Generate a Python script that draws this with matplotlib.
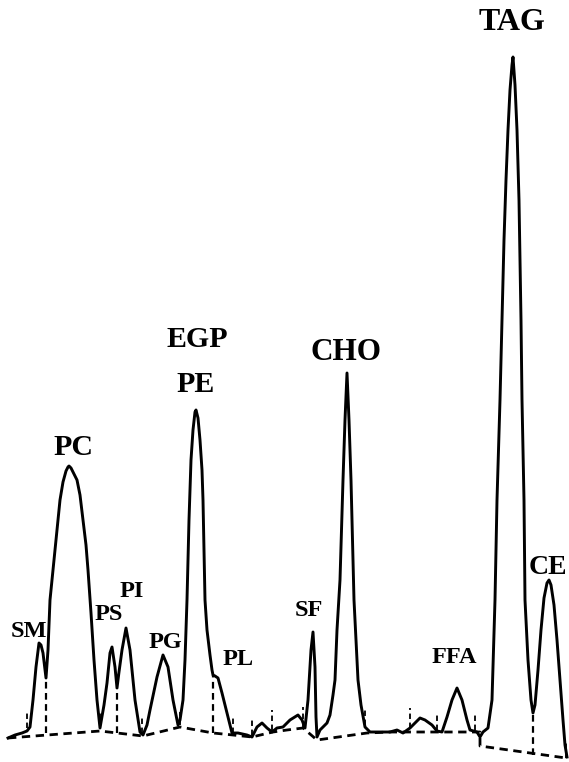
import matplotlib.pyplot as plt

# detector trace: retention position and response
time = [8, 15, 22, 27, 30, 33, 36, 39, 41, 43, 46, 48, 50, 53, 57, 60, 63, 66, 68, 69,
        71, 74, 77, 80, 83, 86, 88, 91, 94, 97, 100, 104, 107, 110, 112, 115, 117, 119, 122, 126,
        130, 135, 140, 143, 147, 150, 157, 163, 168, 173, 178, 180, 183, 185, 187, 189, 191, 193, 195, 196,
        198, 200, 202, 203, 204, 205, 207, 210, 212, 213, 215, 218, 222, 227, 232, 238, 247, 252, 257, 262,
        267, 272, 277, 283, 290, 298, 302, 305, 308, 311, 313, 315, 316, 317, 320, 327, 330, 333, 335, 337,
        340, 343, 345, 347, 349, 351, 353, 354, 356, 358, 361, 365, 370, 377, 390, 397, 403, 410, 420, 425,
        432, 437, 442, 447, 452, 457, 462, 467, 470, 477, 480, 483, 488, 492, 495, 497, 500, 502, 504, 506,
        508, 510, 512, 513, 515, 517, 519, 520, 521, 522, 524, 525, 528, 531, 533, 535, 538, 541, 544, 547,
        549, 551, 554, 557, 560, 563, 565, 567]
signal = [24, 27, 29, 31, 35, 62, 95, 119, 117, 109, 84, 112, 162, 192, 232, 262, 280, 291, 295, 296,
          294, 288, 282, 267, 242, 217, 192, 149, 102, 62, 34, 57, 79, 109, 115, 95, 74, 90, 112, 134,
          112, 62, 30, 27, 37, 52, 85, 107, 95, 62, 37, 42, 62, 102, 162, 242, 302, 332, 350, 352,
          344, 322, 292, 262, 212, 162, 132, 107, 92, 87, 86, 84, 69, 49, 29, 29, 27, 25, 35, 39,
          34, 30, 34, 35, 42, 47, 42, 34, 62, 112, 130, 95, 45, 25, 32, 39, 47, 67, 82, 132,
          182, 282, 342, 389, 342, 282, 202, 162, 122, 82, 57, 35, 30, 30, 30, 32, 29, 34, 44, 42,
          37, 31, 30, 45, 62, 74, 62, 42, 32, 30, 25, 30, 34, 62, 162, 262, 362, 442, 522, 582,
          632, 672, 697, 705, 677, 632, 562, 502, 442, 362, 262, 162, 102, 62, 49, 57, 92, 132, 164, 179,
          182, 177, 157, 122, 82, 42, 17, 5]

# integration baseline
base_time = [8, 100, 143, 180, 213, 233, 252, 273, 287, 303, 317, 367, 390, 480, 480, 566]
base_signal = [24, 31, 26, 35, 29, 27, 25, 30, 32, 34, 22, 29, 30, 30, 16, 4]

# peak split lines (time, top, bottom)
drop_time = [46, 117, 213, 533]
drop_top = [84, 74, 87, 49]
drop_bottom = [29, 29, 29, 7]

# integration start/stop marks
mark_time = [27, 100, 142, 180, 233, 252, 272, 303, 365, 410, 437, 475, 566]
mark_top = [49, 50, 44, 50, 47, 45, 52, 55, 52, 54, 50, 50, 20]
mark_bottom = [34, 34, 29, 37, 29, 27, 32, 34, 37, 34, 32, 32, 4]

# peak names
big_names = ['TAG', 'EGP', 'PE', 'PC', 'CHO', 'CE']
big_time = [512, 197, 196, 73, 346, 548]
big_y = [732, 415, 370, 307, 402, 188]
big_size = [23, 21.5, 21.5, 21.5, 22.5, 20]

small_names = ['SM', 'PS', 'PI', 'PG', 'PL', 'SF', 'FFA']
small_time = [29, 109, 132, 165, 238, 309, 454]
small_y = [125, 142, 165, 114, 97, 146, 99]

fig = plt.figure(figsize=(5.69, 7.62), dpi=100)
ax = fig.add_axes([0, 0, 1, 1])
ax.set_xlim(0, 569)
ax.set_ylim(0, 762)
ax.axis('off')

ax.plot(base_time, base_signal, color='black', lw=2.0, dashes=(3, 2), zorder=1)
for t, top, bot in zip(drop_time, drop_top, drop_bottom):
    ax.plot([t, t], [bot, top], color='black', lw=1.6, dashes=(3, 2), zorder=1)
for t, top, bot in zip(mark_time, mark_top, mark_bottom):
    ax.plot([t, t], [bot, top], color='black', lw=1.3, dashes=(3, 2), zorder=1)

ax.plot(time, signal, color='black', lw=2.1, solid_joinstyle='round', zorder=2)

for name, t, y, s in zip(big_names, big_time, big_y, big_size):
    ax.text(t, y, name, ha='center', va='baseline', fontsize=s,
            fontweight='bold', family='Liberation Serif')
for name, t, y in zip(small_names, small_time, small_y):
    ax.text(t, y, name, ha='center', va='baseline', fontsize=17.5,
            fontweight='bold', family='Liberation Serif')

fig.savefig('out.png', dpi=100, facecolor='white')
